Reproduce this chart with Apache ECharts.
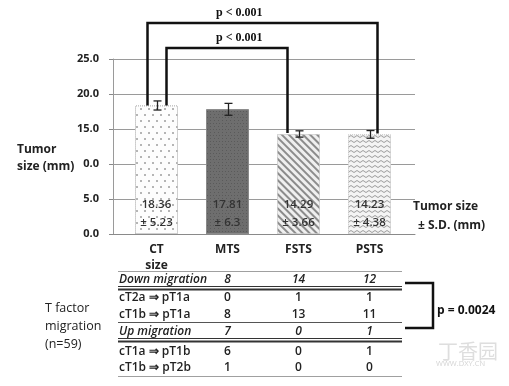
<!DOCTYPE html>
<html><head><meta charset="utf-8">
<script src="https://cdn.jsdelivr.net/npm/echarts@6/dist/echarts.min.js"></script>
<style>html,body{margin:0;padding:0;background:#fff}#c{width:509px;height:386px}</style>
</head><body><div id="c"></div>
<script>
// ---- data ----
const categories = ['CT\nsize', 'MTS', 'FSTS', 'PSTS'];
const means = [18.36, 17.81, 14.29, 14.23];
const sds = [5.23, 6.3, 3.66, 4.38];
const errHalf = [0.65, 0.85, 0.45, 0.55];
const yTickLabels = ['0.0', '5.0', '0.0', '15.0', '20.0', '25.0'];
const pTests = [
  { from: 0, to: 3, label: 'p < 0.001' },
  { from: 0, to: 2, label: 'p < 0.001' }
];
const tableColumns = [1, 2, 3]; // MTS, FSTS, PSTS
const tableRows = ['Down migration', 'cT2a \u21D2 pT1a', 'cT1b \u21D2 pT1a', 'Up migration', 'cT1a \u21D2 pT1b', 'cT1b \u21D2 pT2b'];
const tableItalic = [true, false, false, true, false, false];
const tableValues = [[8, 14, 12], [0, 1, 1], [8, 13, 11], [7, 0, 1], [6, 0, 1], [1, 0, 0]];
const migrationP = 'p = 0.0024';
const migrationLabel = ['T factor', 'migration', '(n=59)'];

const FONT = '"Open Sans", sans-serif';
const chart = echarts.init(document.getElementById('c'), null, { renderer: 'canvas' });

const barStyles = [
  { color: '#fdfdfd', borderColor: '#b5b5b5', borderWidth: 1, borderType: 'dotted',
    decal: { symbol: 'circle', symbolSize: 1, color: '#9c9c9c', backgroundColor: '#fdfdfd',
      dashArrayX: [[1.6, 5.4], [0, 3.5, 1.6, 1.9]], dashArrayY: [1.6, 3.6] } },
  { color: '#6c6c6c', borderColor: '#8a8a8a', borderWidth: 1,
    decal: { symbol: 'rect', symbolSize: 1, color: 'rgba(0,0,0,0.18)', backgroundColor: '#6e6e6e',
      dashArrayX: [[1, 2], [0, 1.5, 1, 0.5]], dashArrayY: [1, 1.5] } },
  { color: '#eeeeee', borderColor: '#c8c8c8', borderWidth: 1, borderType: 'dotted',
    decal: { symbol: 'rect', symbolSize: 1, color: '#8c8c8c', backgroundColor: '#efefef',
      dashArrayX: [1, 0], dashArrayY: [1.3, 2.2], rotation: Math.PI / 4 } },
  { color: '#f4f4f4', borderColor: '#c8c8c8', borderWidth: 1, borderType: 'dotted',
    decal: { symbol: 'path://M0,4 L4,0 L8,4 L8,6 L4,2 L0,6Z', symbolSize: 1, symbolKeepAspect: false,
      color: '#9a9a9a', backgroundColor: '#f4f4f4', dashArrayX: [6, 0], dashArrayY: [3, 2] } }
];

const option = {
  backgroundColor: '#fff',
  animation: false,
  textStyle: { fontFamily: FONT },
  grid: [
    { left: 113, top: 59, width: 302, height: 175 },
    { left: 121, top: 59, width: 284, height: 175 }
  ],
  xAxis: [
    { gridIndex: 0, type: 'category', data: [''],
      axisLine: { show: true, lineStyle: { color: '#8a8a8a', width: 1 } },
      axisTick: { show: false }, axisLabel: { show: false } },
    { gridIndex: 1, type: 'category', data: categories,
      axisLine: { show: false }, axisTick: { show: false },
      axisLabel: { fontFamily: FONT, fontWeight: 'bold', fontSize: 12, color: '#222', margin: 8, lineHeight: 16 } }
  ],
  yAxis: [
    { gridIndex: 0, type: 'value', min: 0, max: 25, interval: 5,
      axisLine: { show: true, lineStyle: { color: '#9a9a9a' } },
      axisTick: { show: true, length: 4, lineStyle: { color: '#888' } },
      splitLine: { show: true, lineStyle: { color: '#9a9a9a', width: 1 } },
      axisLabel: { formatter: v => yTickLabels[Math.round(v / 5)], fontFamily: FONT, fontWeight: 'bold',
        fontSize: 11, color: '#222', margin: 14 } },
    { gridIndex: 1, type: 'value', min: 0, max: 25, interval: 5, show: false, splitLine: { show: false } }
  ],
  series: [
    { type: 'bar', xAxisIndex: 1, yAxisIndex: 1, barWidth: 43, z: 2,
      data: means.map((m, i) => ({ value: m, itemStyle: barStyles[i] })),
      label: { show: true, position: 'insideBottom', distance: 2,
        formatter: p => means[p.dataIndex].toFixed(2) + '\n\u00B1 ' + sds[p.dataIndex],
        fontFamily: FONT, fontSize: 11.5, lineHeight: 18, color: '#333', fontWeight: 600 } },
    { type: 'custom', xAxisIndex: 1, yAxisIndex: 1, z: 5,
      data: means.map((m, i) => [i, m - errHalf[i], m + errHalf[i]]),
      renderItem: (params, api) => {
        const lo = api.coord([api.value(0), api.value(1)]);
        const hi = api.coord([api.value(0), api.value(2)]);
        const x = lo[0] + 1, w = 4;
        const st = { stroke: '#222', lineWidth: 1.3 };
        return { type: 'group', children: [
          { type: 'line', shape: { x1: x, y1: lo[1], x2: x, y2: hi[1] }, style: st },
          { type: 'line', shape: { x1: x - w, y1: lo[1], x2: x + w, y2: lo[1] }, style: st },
          { type: 'line', shape: { x1: x - w, y1: hi[1], x2: x + w, y2: hi[1] }, style: st }
        ] };
      } }
  ]
};
chart.setOption(option);

function px(i, v) { return chart.convertToPixel({ xAxisIndex: 1, yAxisIndex: 1 }, [i, v]); }

const g = [];
// significance brackets
const bracketGeom = [
  { dl: -9, dr: 8, top: 23, textY: 13 },
  { dl: 10, dr: -11, top: 48, textY: 38 }
];
pTests.forEach((t, k) => {
  const b = bracketGeom[k];
  const a = px(t.from, means[t.from]);
  const c = px(t.to, means[t.to]);
  g.push({ type: 'polyline', z: 100,
    shape: { points: [[a[0] + b.dl, a[1]], [a[0] + b.dl, b.top], [c[0] + b.dr, b.top], [c[0] + b.dr, c[1] - 1]] },
    style: { stroke: '#111', lineWidth: 2.5, fill: null } });
  g.push({ type: 'text', z: 100, x: 216, y: b.textY,
    style: { text: t.label, font: 'bold 12px "Liberation Serif", serif', fill: '#111', textVerticalAlign: 'middle' } });
});

// axis titles
g.push({ type: 'text', x: 17, y: 150, style: { text: 'Tumor', font: 'bold 12px ' + FONT, fill: '#222', textVerticalAlign: 'middle' } });
g.push({ type: 'text', x: 17, y: 167, style: { text: 'size (mm)', font: 'bold 12px ' + FONT, fill: '#222', textVerticalAlign: 'middle' } });
g.push({ type: 'text', x: 413, y: 207, style: { text: 'Tumor size', font: 'bold 12px ' + FONT, fill: '#222', textVerticalAlign: 'middle' } });
g.push({ type: 'text', x: 418, y: 226, style: { text: '\u00B1 S.D. (mm)', font: 'bold 12px ' + FONT, fill: '#222', textVerticalAlign: 'middle' } });

// table
const tLeft = 118, tRight = 402;
const rowY = [280, 298, 315, 332, 352, 368];
tableRows.forEach((r, i) => {
  g.push({ type: 'text', x: tLeft + 1, y: rowY[i],
    style: { text: r, font: (tableItalic[i] ? 'italic ' : '') + '600 12px ' + FONT, fill: '#222', textVerticalAlign: 'middle' } });
  tableValues[i].forEach((v, j) => {
    const cx = px(tableColumns[j], 0)[0];
    g.push({ type: 'text', x: cx, y: rowY[i],
      style: { text: String(v), font: (tableItalic[i] ? 'italic ' : '') + '600 12px ' + FONT, fill: '#222',
        textAlign: 'center', textVerticalAlign: 'middle' } });
  });
});
const hl = (y, color, w) => g.push({ type: 'line', shape: { x1: tLeft, y1: y, x2: tRight, y2: y }, style: { stroke: color, lineWidth: w } });
hl(271.5, '#a0a0a0', 1);
hl(286.5, '#333', 1);
hl(289.5, '#333', 2);
hl(322.5, '#555', 1);
hl(338.5, '#333', 1);
hl(341.5, '#333', 2);
hl(376.5, '#a0a0a0', 1);

migrationLabel.forEach((t, i) => {
  g.push({ type: 'text', x: 45, y: 308 + i * 18,
    style: { text: t, font: '12.5px ' + FONT, fill: '#222', textVerticalAlign: 'middle' } });
});
g.push({ type: 'polyline', shape: { points: [[405, 283], [433, 283], [433, 328], [405, 328]] },
  style: { stroke: '#111', lineWidth: 2.5, fill: null } });
g.push({ type: 'text', x: 437, y: 311, style: { text: migrationP, font: 'bold 12px ' + FONT, fill: '#111', textVerticalAlign: 'middle' } });

// watermark
g.push({ type: 'text', x: 438, y: 351, style: { text: '丁香园', font: '20px "Noto Sans CJK SC"', fill: '#dedede', textVerticalAlign: 'middle' } });
g.push({ type: 'text', x: 436, y: 364, style: { text: 'WWW.DXY.CN', font: '7.5px ' + FONT, fill: '#d4d4d4', textVerticalAlign: 'middle' } });

chart.setOption({ graphic: { elements: g } });
</script>
</body></html>
